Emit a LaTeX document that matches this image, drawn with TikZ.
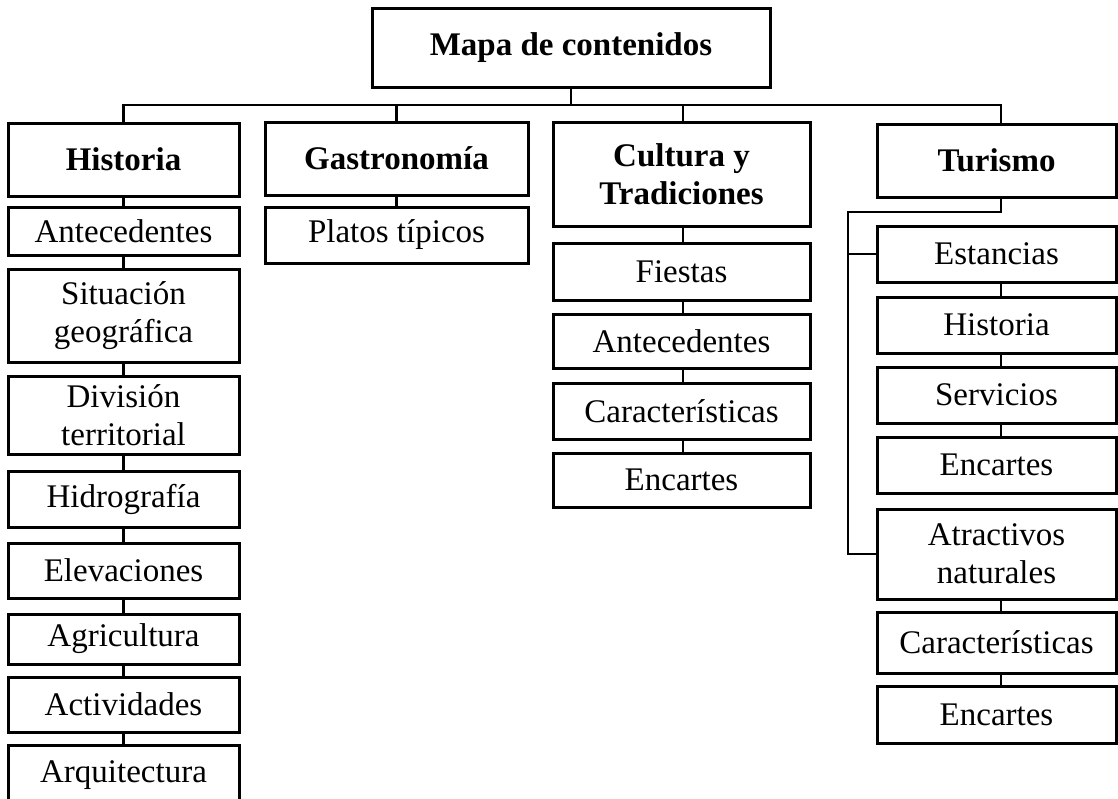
\documentclass[tikz,border=0pt]{standalone}
\usepackage{fontspec}
\setmainfont{Liberation Serif}
\begin{document}
\begin{tikzpicture}[x=1pt,y=-1pt,
  box/.style={draw=black, line width=3pt, fill=white, inner sep=0pt, align=center,
    font=\fontsize{33}{38}\selectfont},
  head/.style={box, font=\fontsize{33}{38}\selectfont\bfseries},
  link/.style={draw=black, line width=2.8pt}]
\useasboundingbox (0,0) rectangle (1118,798);
% top
\node[head, minimum width=398pt, minimum height=79pt] (top) at (571,47.5) {Mapa de contenidos};
% Historia column
\begin{scope}[every node/.style={minimum width=231pt}]
\node[head, minimum height=73pt] (hist) at (123.5,159.5) {Historia};
\node[box, minimum height=48pt] (h1) at (123.5,231) {Antecedentes};
\node[box, minimum height=93pt] (h2) at (123.5,315.5) {Situación\\geográfica};
\node[box, minimum height=78pt] (h3) at (123.5,415) {División\\territorial};
\node[box, minimum height=56pt] (h4) at (123.5,499) {Hidrografía};
\node[box, minimum height=55pt] (h5) at (123.5,570.5) {Elevaciones};
\node[box, minimum height=50pt] (h6) at (123.5,639) {Agricultura};
\node[box, minimum height=55pt] (h7) at (123.5,704.5) {Actividades};
\node[box, minimum height=60pt] (h8) at (123.5,775) {Arquitectura};
\end{scope}
% Gastronomia
\begin{scope}[every node/.style={minimum width=263pt}]
\node[head, minimum height=73pt] (gast) at (396.5,158.5) {Gastronomía};
\node[box, minimum height=56pt] (g1) at (396.5,235) {Platos típicos};
\end{scope}
% Cultura
\begin{scope}[every node/.style={minimum width=257pt}]
\node[head, minimum height=104pt] (cult) at (681.5,174) {Cultura y\\Tradiciones};
\node[box, minimum height=57pt] (c1) at (681.5,271.5) {Fiestas};
\node[box, minimum height=54pt] (c2) at (681.5,341) {Antecedentes};
\node[box, minimum height=56pt] (c3) at (681.5,411) {Características};
\node[box, minimum height=54pt] (c4) at (681.5,480) {Encartes};
\end{scope}
% Turismo
\begin{scope}[every node/.style={minimum width=239pt}]
\node[head, minimum height=73pt] (tur) at (996.5,160.5) {Turismo};
\node[box, minimum height=56pt] (t1) at (996.5,254) {Estancias};
\node[box, minimum height=56pt] (t2) at (996.5,325) {Historia};
\node[box, minimum height=56pt] (t3) at (996.5,395) {Servicios};
\node[box, minimum height=56pt] (t4) at (996.5,465) {Encartes};
\node[box, minimum height=90pt] (t5) at (996.5,554) {Atractivos\\naturales};
\node[box, minimum height=61pt] (t6) at (996.5,642.5) {Características};
\node[box, minimum height=57pt] (t7) at (996.5,714.5) {Encartes};
\end{scope}
% main tree
\coordinate (bus) at (0,105);
\coordinate (tbus) at (848,212);
\begin{scope}[on background layer/.style={}]
\draw[link] (top.south) -- (top.south |- bus);
\draw[link] (hist.north) -- (hist.north |- bus) -- ([xshift=4.5pt]tur.north |- bus) -- ([xshift=4.5pt]tur.north);
\draw[link] (gast.north |- bus) -- (gast.north);
\draw[link] ([xshift=1.5pt]cult.north |- bus) -- ([xshift=1.5pt]cult.north);
% Historia chain
\foreach \a/\b in {hist/h1,h1/h2,h2/h3,h3/h4,h4/h5,h5/h6,h6/h7,h7/h8}
  \draw[link] (\a.south) -- (\b.north);
\draw[link] (gast.south) -- (g1.north);
\foreach \a/\b in {cult/c1,c1/c2,c2/c3,c3/c4}
  \draw[link] ([xshift=1.5pt]\a.south) -- ([xshift=1.5pt]\b.north);
% Turismo tree
\draw[link] ([xshift=4.5pt]tur.south) |- (tbus) |- (t5.west);
\draw[link] (tbus |- t1.west) -- (t1.west);
\foreach \a/\b in {t1/t2,t2/t3,t3/t4,t5/t6,t6/t7}
  \draw[link] ([xshift=4.5pt]\a.south) -- ([xshift=4.5pt]\b.north);
\end{scope}
\end{tikzpicture}
\end{document}
